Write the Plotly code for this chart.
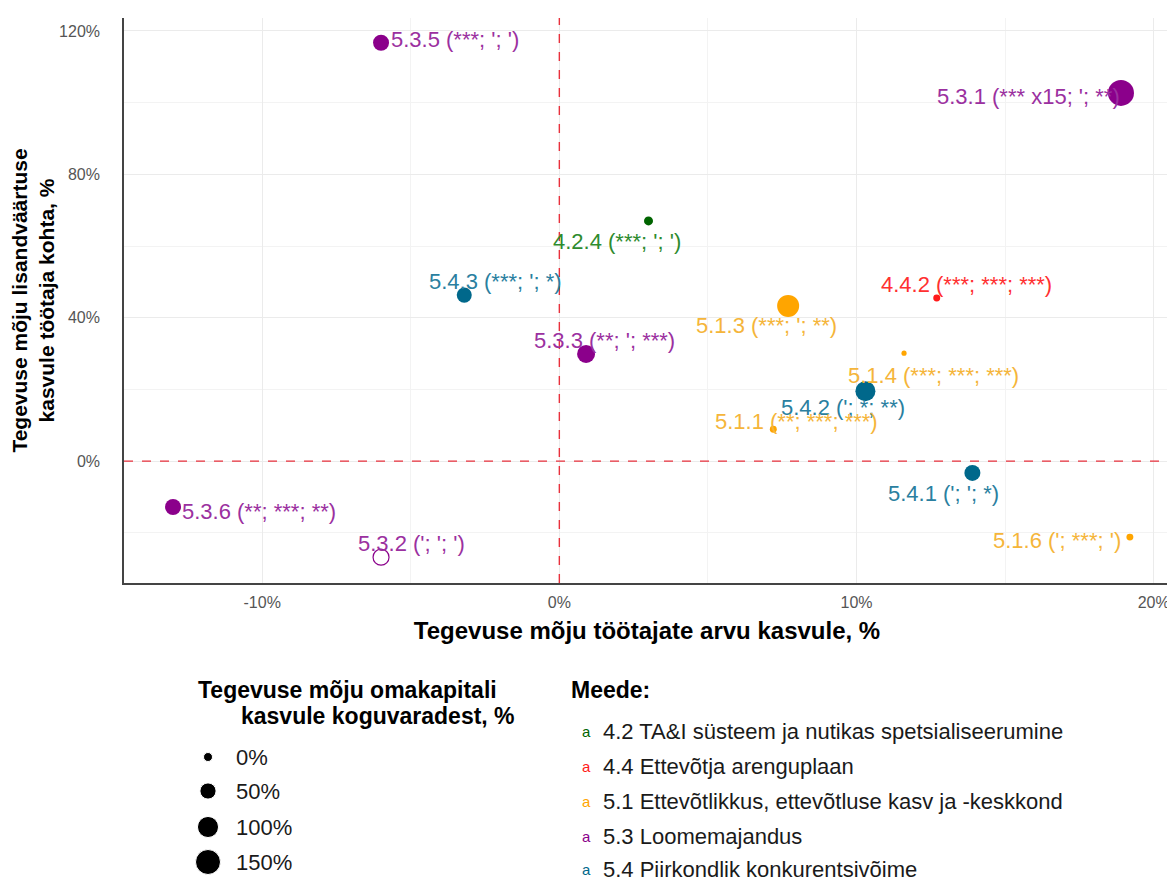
import plotly.graph_objects as go
import math

# ---- data ----
codes = ["5.3.5", "5.3.1", "4.2.4", "5.4.3", "4.4.2", "5.1.3", "5.3.3",
         "5.1.4", "5.4.2", "5.1.1", "5.4.1", "5.3.6", "5.1.6", "5.3.2"]
signif = ["***; '; '", "*** x15; '; **)", "***; '; '", "***; '; *", "***; ***; ***",
          "***; '; **", "**; '; ***", "***; ***; ***", "'; *; **", "**; ***; ***",
          "'; '; *", "**; ***; **", "'; ***; '", "'; '; '"]
measure = ["5.3", "5.3", "4.2", "5.4", "4.4", "5.1", "5.3",
           "5.1", "5.4", "5.1", "5.4", "5.3", "5.1", "5.3"]
employment = [-6.0, 18.9, 3.0, -3.2, 12.7, 7.7, 0.9,
              11.6, 10.3, 7.2, 13.9, -13.0, 19.2, -6.0]
value_added = [116.7, 102.7, 67.0, 46.3, 45.5, 43.3, 29.9,
               30.1, 19.5, 8.9, -3.3, -12.8, -21.2, -26.8]
equity = [48, 164, 0, 40, -9, 111, 67, -15, 88, -9, 48, 48, -9, 48]
filled = [True, True, True, True, True, True, True,
          True, True, True, True, True, True, False]

measure_ids = ["4.2", "4.4", "5.1", "5.3", "5.4"]
measure_names = ["4.2 TA&I süsteem ja nutikas spetsialiseerumine",
                 "4.4 Ettevõtja arenguplaan",
                 "5.1 Ettevõtlikkus, ettevõtluse kasv ja -keskkond",
                 "5.3 Loomemajandus",
                 "5.4 Piirkondlik konkurentsivõime"]
size_breaks = [0, 50, 100, 150]
size_labels = ["0%", "50%", "100%", "150%"]

x_ticks = [-10, 0, 10, 20]
y_ticks = [0, 40, 80, 120]

# ---- styling ----
colors = {"4.2": "#006400", "4.4": "#FF1A1A", "5.1": "#FFA500",
          "5.3": "#8B008B", "5.4": "#00688B"}
label_colors = {"4.2": "#2E8B2E", "4.4": "#FF3030", "5.1": "#F5B53A",
                "5.3": "#9B30A0", "5.4": "#2A7FA0"}
# label offsets (pixels) relative to each point
label_dx = [74, -92, -31, 31, 30, -22, 18, 29, -22, 23, -29, 86, -73, 30]
label_dy = [-3, 4, 21, -14, -13, 20, -13, 22, 16, -8, 21, 4, 3, -14]

W, H = 1175, 880
OFF = 8  # page body margin of the browser
L, R, T, B = 124 - OFF, 1170 - OFF, 18 - OFF, 583 - OFF
FONT = "Liberation Sans, Arial, sans-serif"


def diam(v):
    return math.sqrt(max(81 + 3.63 * v, 16))


fig = go.Figure()

# points, one trace per measure
for m in measure_ids:
    idx = [i for i, mm in enumerate(measure) if mm == m]
    fig.add_trace(go.Scatter(
        x=[employment[i] for i in idx],
        y=[value_added[i] for i in idx],
        mode="markers",
        marker=dict(
            size=[diam(equity[i]) for i in idx], opacity=1,
            color=[colors[m] if filled[i] else "rgba(0,0,0,0)" for i in idx],
            line=dict(color=colors[m], width=[0 if filled[i] else 1.2 for i in idx]),
        ),
        showlegend=False, hoverinfo="skip", cliponaxis=False,
    ))

# point labels
for i, c in enumerate(codes):
    txt = f"{c} ({signif[i]})" if not signif[i].endswith(")") else f"{c} ({signif[i]}"
    fig.add_annotation(
        x=employment[i], y=value_added[i], xref="x", yref="y",
        ax=label_dx[i], ay=label_dy[i], axref="pixel", ayref="pixel",
        showarrow=True, arrowcolor="rgba(0,0,0,0)", arrowwidth=0.1,
        text=txt, font=dict(family=FONT, size=22, color=label_colors[measure[i]]),
    )

# reference lines
fig.add_shape(type="line", xref="x", yref="y domain", x0=0, x1=0, y0=0, y1=1,
              line=dict(color="#E8313C", width=1.4, dash="dash"), layer="above")
fig.add_shape(type="line", xref="x domain", yref="y", x0=0, x1=1, y0=0, y1=0,
              line=dict(color="#E8313C", width=1.4, dash="dash"), layer="above")

# ---- legends (drawn on an overlay axis spanning the figure, in window pixels) ----
size_leg_x = 208
size_leg_y = [757, 791, 827, 862]
fig.add_trace(go.Scatter(
    x=[size_leg_x] * len(size_breaks), y=size_leg_y, xaxis="x2", yaxis="y2",
    mode="markers", marker=dict(size=[diam(v) for v in size_breaks], color="black", opacity=1),
    showlegend=False, hoverinfo="skip", cliponaxis=False,
))
for yy, lab in zip(size_leg_y, size_labels):
    fig.add_annotation(x=234, y=yy, xref="x2", yref="y2", text=lab, showarrow=False,
                       xanchor="left", font=dict(family=FONT, size=22, color="#1a1a1a"))
fig.add_annotation(x=347, y=690, xref="x2", yref="y2", showarrow=False,
                   text="<b>Tegevuse mõju omakapitali</b>",
                   font=dict(family=FONT, size=23, color="black"))
fig.add_annotation(x=378, y=716, xref="x2", yref="y2", showarrow=False,
                   text="<b>kasvule koguvaradest, %</b>",
                   font=dict(family=FONT, size=23, color="black"))

fig.add_annotation(x=569, y=690, xref="x2", yref="y2", showarrow=False, xanchor="left",
                   text="<b>Meede:</b>", font=dict(family=FONT, size=23, color="black"))
col_leg_y = [731, 766, 801, 836, 869]
for yy, m, name in zip(col_leg_y, measure_ids, measure_names):
    fig.add_annotation(x=586, y=yy, xref="x2", yref="y2", showarrow=False,
                       text="a", font=dict(family=FONT, size=15, color=colors[m]))
    fig.add_annotation(x=601, y=yy, xref="x2", yref="y2", showarrow=False, xanchor="left",
                       text=name, font=dict(family=FONT, size=22, color="#1a1a1a"))

grid = "#EBEBEB"
fig.update_layout(
    width=W, height=H,
    margin=dict(l=0, r=0, t=0, b=0),
    paper_bgcolor="white", plot_bgcolor="rgba(0,0,0,0)",
    font=dict(family=FONT),
    showlegend=False,
    xaxis=dict(
        domain=[L / W, R / W], range=[-14.65, 20.55],
        tickvals=x_ticks, ticktext=[f"{v}%" for v in x_ticks],
        showgrid=True, gridcolor=grid, gridwidth=1.2,
        minor=dict(dtick=5, tick0=0, showgrid=True, gridcolor="#F3F3F3", gridwidth=1),
        zeroline=False, showline=True, linecolor="#444", linewidth=1.6,
        ticks="", ticklabelstandoff=4, tickfont=dict(size=16, color="#555"),
        title=dict(text="<b>Tegevuse mõju töötajate arvu kasvule, %</b>",
                   font=dict(size=24, color="black"), standoff=12),
        automargin=False,
    ),
    yaxis=dict(
        domain=[1 - B / H, 1 - T / H], range=[-34.0, 123.6],
        tickvals=y_ticks, ticktext=[f"{v}%" for v in y_ticks],
        showgrid=True, gridcolor=grid, gridwidth=1.2,
        minor=dict(dtick=20, tick0=0, showgrid=True, gridcolor="#F3F3F3", gridwidth=1),
        zeroline=False, showline=True, linecolor="#444", linewidth=1.6,
        ticks="", ticklabelstandoff=19, tickfont=dict(size=16, color="#555"),
        title=dict(text="<b>Tegevuse mõju lisandväärtuse<br>kasvule töötaja kohta, %</b>",
                   font=dict(size=21, color="black"), standoff=3),
        automargin=False,
    ),
    xaxis2=dict(domain=[0, 1], range=[OFF, W + OFF], visible=False, anchor="y2"),
    yaxis2=dict(domain=[0, 1], range=[H + OFF, OFF], visible=False, anchor="x2"),
)

fig.write_html("out.html")
